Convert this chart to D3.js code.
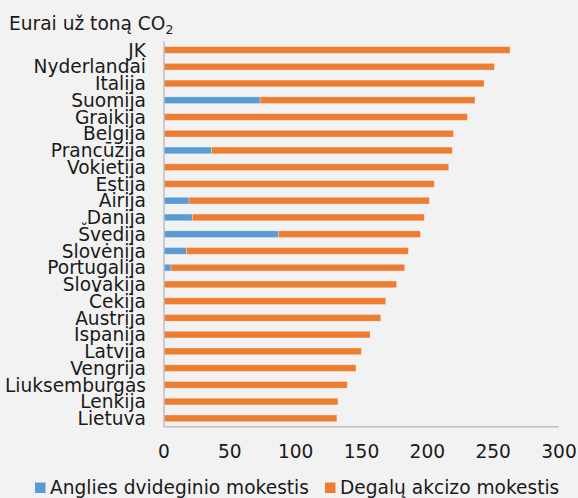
<!DOCTYPE html>
<html>
<head>
<meta charset="utf-8">
<script src="https://cdn.jsdelivr.net/npm/d3@7"></script>
<style>
  html, body { margin: 0; padding: 0; background: #F2F2F2; }
  svg { display: block; }
  text { font-family: "DejaVu Sans", Verdana, sans-serif; fill: #1a1a1a; }
</style>
</head>
<body>
<svg id="chart" width="578" height="498"></svg>
<script>
const categories = ["JK","Nyderlandai","Italija","Suomija","Graikija","Belgija","Prancūzija","Vokietija","Estija","Airija","Danija","Švedija","Slovėnija","Portugalija","Slovakija","Čekija","Austrija","Ispanija","Latvija","Vengrija","Liuksemburgas","Lenkija","Lietuva"];
const carbonTax = [0,0,0,73,0,0,36,0,0,19,21.5,87,17,5.3,0,0,0,0,0,0,0,0,0];
const totalTax  = [262.8,250.9,243.1,236.2,230.4,219.8,219.0,216.2,205.3,201.5,197.7,194.7,185.6,182.8,176.7,168.4,164.6,156.5,149.9,145.8,139.2,132.1,131.3];
const fuelExcise = totalTax.map((t, i) => t - carbonTax[i]);
const seriesNames = ["Anglies dvideginio mokestis", "Degalų akcizo mokestis"];
const seriesColors = ["#5B9BD5", "#ED7D31"];
const xTicks = [0, 50, 100, 150, 200, 250, 300];
const yTitle = "Eurai už toną CO";

const FS = 18.6;
const svg = d3.select("#chart");
const x = d3.scaleLinear().domain([0, 300]).range([164, 559]);
const y = d3.scaleBand().domain(categories).range([41.6, 426.7]).paddingInner(0.6).paddingOuter(0.3);

const rows = categories.map((c, i) => ({ c, a: carbonTax[i], b: fuelExcise[i] }));
const stack = d3.stack().keys(["a", "b"])(rows);

svg.append("g").selectAll("g").data(stack).join("g")
  .attr("fill", (d, i) => seriesColors[i])
  .selectAll("rect").data(d => d.filter(p => p[1] - p[0] > 0)).join("rect")
  .attr("x", d => x(d[0]))
  .attr("y", d => y(d.data.c))
  .attr("width", d => x(d[1]) - x(d[0]))
  .attr("height", y.bandwidth())
  .attr("stroke", "rgba(255,255,255,0.35)")
  .attr("stroke-width", 0.8);

// axes lines
svg.append("line").attr("x1", x(0)).attr("x2", x(0)).attr("y1", 41.6).attr("y2", 426.7)
  .attr("stroke", "#BFBFBF").attr("stroke-width", 1.5);
svg.append("line").attr("x1", x(0) - 0.75).attr("x2", x(300)).attr("y1", 426.7).attr("y2", 426.7)
  .attr("stroke", "#BFBFBF").attr("stroke-width", 1.5);

// category labels
svg.append("g").selectAll("text").data(categories).join("text")
  .attr("x", 146)
  .attr("y", d => y(d) + y.bandwidth() / 2 + 6.7)
  .attr("text-anchor", "end")
  .attr("font-size", FS)
  .text(d => d);

// x tick labels
svg.append("g").selectAll("text").data(xTicks).join("text")
  .attr("x", d => x(d))
  .attr("y", 458)
  .attr("text-anchor", "middle")
  .attr("font-size", FS)
  .text(d => d);

// title
const t = svg.append("text").attr("x", 9).attr("y", 29.5).attr("font-size", FS).text(yTitle);
t.append("tspan").attr("font-size", 12.5).attr("dy", 4).text("2");

// legend
const legendX = [35, 325];
seriesNames.forEach((n, i) => {
  svg.append("rect").attr("x", legendX[i]).attr("y", 482.5).attr("width", 10.5).attr("height", 10.5).attr("fill", seriesColors[i]);
  svg.append("text").attr("x", legendX[i] + 15).attr("y", 494).attr("font-size", FS).text(n);
});
</script>
</body>
</html>
